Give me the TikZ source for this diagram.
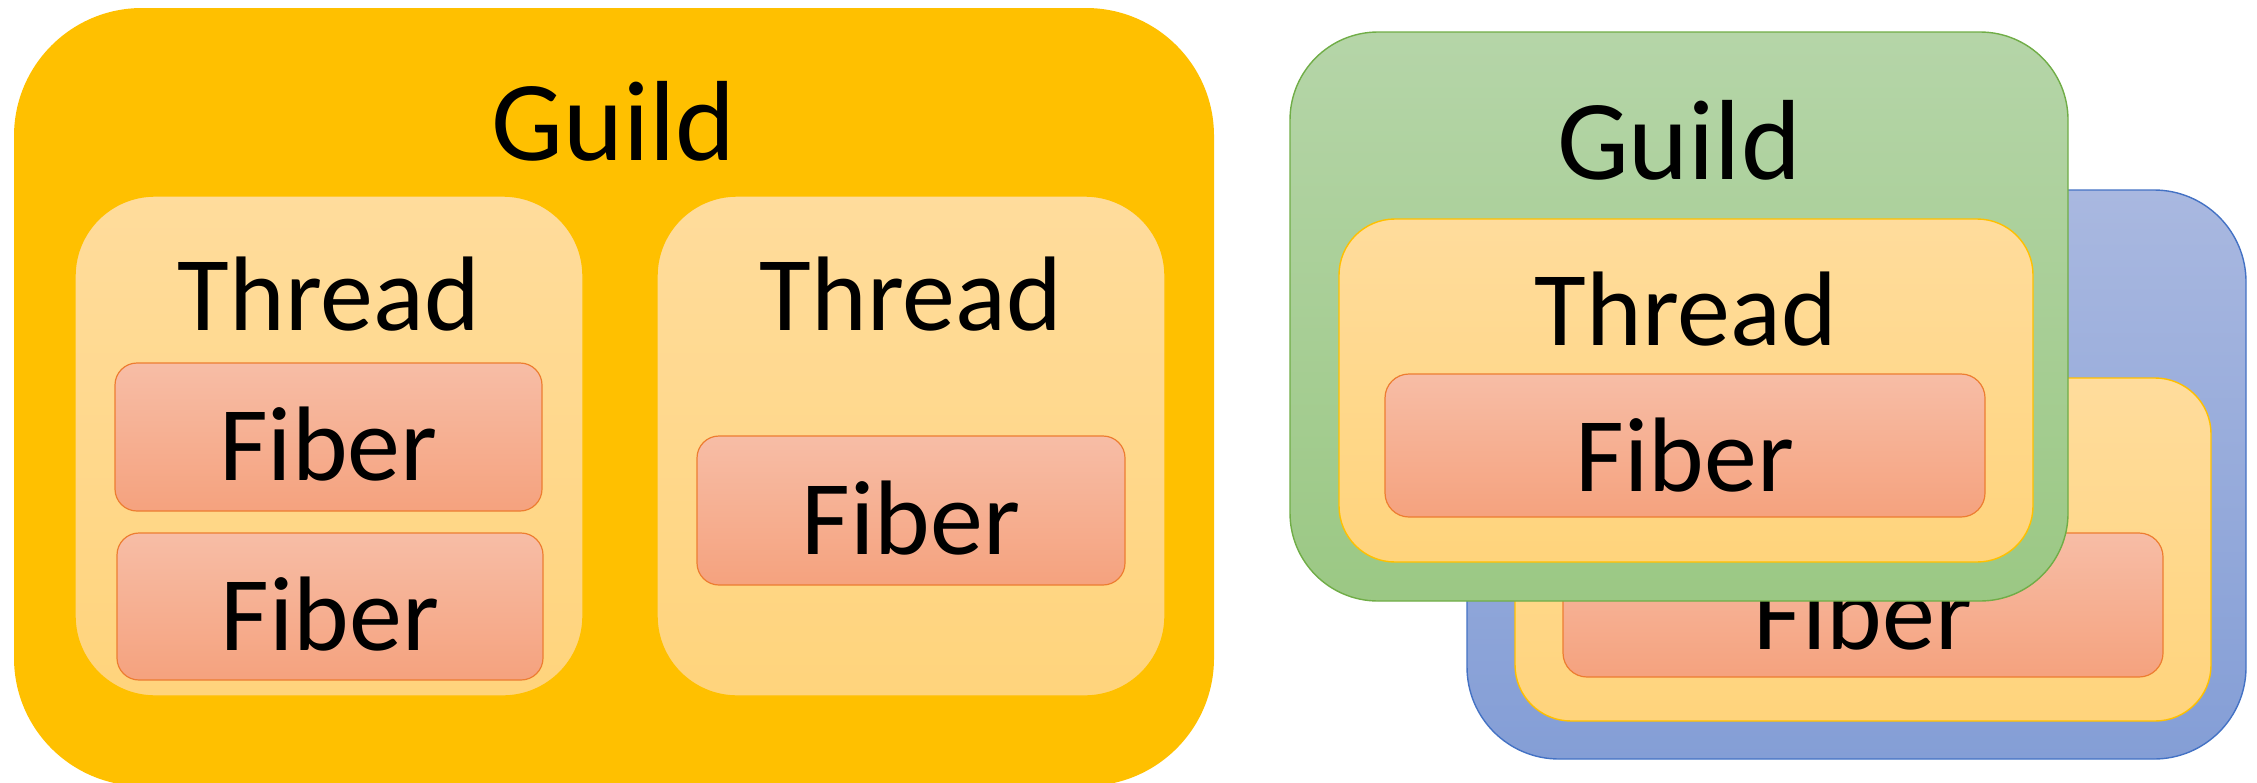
\documentclass[tikz,border=0pt]{standalone}
\usepackage{fontspec}
\setmainfont{Carlito}
\definecolor{gold}{HTML}{FFC000}
\definecolor{thrTop}{HTML}{FFDC9C}
\definecolor{thrBot}{HTML}{FFD47C}
\definecolor{fibTop}{HTML}{F7BDA6}
\definecolor{fibBot}{HTML}{F5A27E}
\definecolor{fibLine}{HTML}{ED7D31}
\definecolor{grnTop}{HTML}{B5D5A8}
\definecolor{grnBot}{HTML}{9BC884}
\definecolor{grnLine}{HTML}{70AD47}
\definecolor{bluTop}{HTML}{A9B8E0}
\definecolor{bluBot}{HTML}{849ED6}
\definecolor{bluLine}{HTML}{4472C4}
\tikzset{
  box/.style={rectangle, inner sep=0pt, outer sep=0pt},
  guildgold/.style={box, fill=gold, draw=none},
  guildgreen/.style={box, top color=grnTop, bottom color=grnBot, draw=grnLine, line width=0.7pt},
  guildblue/.style={box, top color=bluTop, bottom color=bluBot, draw=bluLine, line width=0.7pt},
  threadbox/.style={box, top color=thrTop, bottom color=thrBot, draw=gold, line width=0.7pt},
  fiberbox/.style={box, top color=fibTop, bottom color=fibBot, draw=fibLine, line width=0.6pt},
  guildtxt/.style={anchor=base, inner sep=0pt, font=\fontsize{57}{60}\selectfont},
  lbltxt/.style={anchor=base, inner sep=0pt, font=\fontsize{53}{56}\selectfont},
}
\begin{document}
\begin{tikzpicture}[x=0.5pt, y=-0.5pt]
\useasboundingbox (0,0) rectangle (2257,782);
\begin{scope}
\clip (0,0) rectangle (2257,782);
% left guild
\node[guildgold, minimum width=600pt, minimum height=389pt, rounded corners=64pt] (g1) at (614,397) {};
\node[threadbox, minimum width=254pt, minimum height=250pt, rounded corners=40pt] (t1) at (329,446) {};
\node[threadbox, minimum width=254pt, minimum height=250pt, rounded corners=40pt] (t2) at (911,446) {};
\node[fiberbox, minimum width=213.5pt, minimum height=74pt, rounded corners=11pt] (f1) at (328.5,437) {};
\node[fiberbox, minimum width=213pt, minimum height=73.5pt, rounded corners=11pt] (f2) at (330,606.5) {};
\node[fiberbox, minimum width=214pt, minimum height=74.5pt, rounded corners=11pt] (f3) at (911,510.5) {};
\node[guildtxt] (g1t) at (614,160) {Guild};
\node[lbltxt] (t1t) at (329,330) {Thread};
\node[lbltxt] (t2t) at (911,330) {Thread};
\node[lbltxt] (f1t) at (328.5,480) {Fiber};
\node[lbltxt] (f2t) at (330,650) {Fiber};
\node[lbltxt] (f3t) at (911,554) {Fiber};
% right: back guild
\node[guildblue, minimum width=389.5pt, minimum height=284.5pt, rounded corners=46pt] (g3) at (1856.5,474.5) {};
\node[threadbox, minimum width=348pt, minimum height=171.5pt, rounded corners=28pt] (t4) at (1863,549.5) {};
\node[fiberbox, minimum width=300pt, minimum height=72pt, rounded corners=12pt] (f5) at (1863,605) {};
\node[lbltxt] (f5t) at (1863,649) {Fiber};
% right: front guild
\node[guildgreen, minimum width=389pt, minimum height=284.5pt, rounded corners=44pt] (g2) at (1679,316.5) {};
\node[threadbox, minimum width=347pt, minimum height=171.5pt, rounded corners=28pt] (t3) at (1686,390.5) {};
\node[fiberbox, minimum width=300pt, minimum height=71.5pt, rounded corners=12pt] (f4) at (1685,445.5) {};
\node[guildtxt] (g2t) at (1679,179) {Guild};
\node[lbltxt] (t3t) at (1686,345) {Thread};
\node[lbltxt] (f4t) at (1685,491) {Fiber};
\end{scope}
\end{tikzpicture}
\end{document}
